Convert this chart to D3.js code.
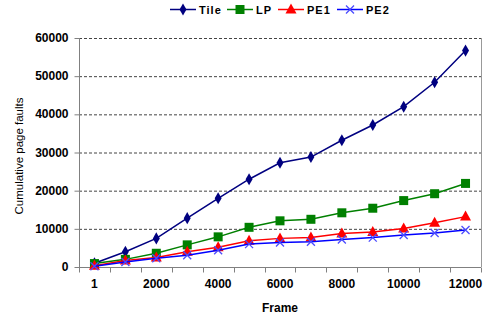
<!DOCTYPE html>
<html><head><meta charset="utf-8">
<script src="https://cdn.jsdelivr.net/npm/d3@7"></script>
<style>body{margin:0;background:#fff}svg{display:block}text{font-family:"Liberation Sans",Arial,sans-serif}</style>
</head><body><svg id="c" width="484" height="321"></svg>
<script>
const frames = ["1","1000","2000","3000","4000","5000","6000","7000","8000","9000","10000","11000","12000"];
const tickLabels = ["1","2000","4000","6000","8000","10000","12000"];
const yTicks = [0,10000,20000,30000,40000,50000,60000];
const tile = [1000,4000,7500,12800,18000,23000,27300,28800,33200,37200,42000,48400,56700];
const lp   = [900,2000,3600,5800,7900,10400,12100,12500,14200,15400,17400,19200,21900];
const pe1  = [300,1700,2500,4000,5200,6900,7500,7700,8800,9200,10100,11600,13200];
const pe2  = [200,1300,2300,3100,4400,6000,6400,6600,7200,7700,8400,8900,9700];
const seriesNames = ["Tile","LP","PE1","PE2"];
const series = [tile, lp, pe1, pe2];
const colors = ["#000080","#008000","#ff0000","#0000ff"];

const svg = d3.select("#c");
const L=79,R=481,T=38,B=267;
const x = d3.scaleBand().domain(frames).range([L,R]);
const y = d3.scaleLinear().domain([0,60000]).range([B,T]);

// gridlines
svg.append("g").selectAll("line").data(yTicks.filter(d=>d>0)).join("line")
  .attr("x1",L).attr("x2",R).attr("y1",d=>y(d)+0.5).attr("y2",d=>y(d)+0.5)
  .attr("stroke","#444").attr("stroke-dasharray","3,2").attr("stroke-width",1);
// right border
svg.append("line").attr("x1",R+0.5).attr("x2",R+0.5).attr("y1",T).attr("y2",B)
  .attr("stroke","#999");

// axes
const xa = svg.append("g").attr("transform",`translate(0,${B+0.5})`);
xa.append("line").attr("x1",L).attr("x2",R).attr("stroke","#808080");
const edges = frames.map(f=>x(f)).concat([R]);
xa.selectAll("line.t").data(edges).join("line").attr("class","t")
  .attr("x1",d=>Math.round(d)+0.5).attr("x2",d=>Math.round(d)+0.5).attr("y1",0).attr("y2",5).attr("stroke","#808080");
xa.selectAll("text").data(tickLabels).join("text")
  .attr("x",d=>x(d)+x.bandwidth()/2).attr("y",20).attr("text-anchor","middle")
  .attr("font-size","12px").attr("font-weight","bold").text(d=>d);

const ya = svg.append("g").attr("transform",`translate(${L+0.5},0)`);
ya.append("line").attr("y1",T).attr("y2",B).attr("stroke","#808080");
ya.selectAll("line.t").data(yTicks).join("line").attr("class","t")
  .attr("x1",-5).attr("x2",0).attr("y1",d=>y(d)+0.5).attr("y2",d=>y(d)+0.5).attr("stroke","#808080");
ya.selectAll("text").data(yTicks).join("text")
  .attr("x",-11).attr("y",d=>y(d)+4).attr("text-anchor","end")
  .attr("font-size","12px").attr("font-weight","bold").text(d=>d);

svg.append("text").attr("x",280).attr("y",312).attr("text-anchor","middle")
  .attr("font-size","12px").attr("font-weight","bold").text("Frame");
svg.append("text").attr("transform","translate(23,156) rotate(-90)").attr("text-anchor","middle")
  .attr("font-size","11.5px").text("Cumulative page faults");

function marker(g, i, cx, cy){
  const c = colors[i];
  if(i===0) g.append("path").attr("d",d3.symbol(d3.symbolDiamond,42)()).attr("transform",`translate(${cx},${cy})`).attr("fill",c);
  else if(i===1) g.append("rect").attr("x",cx-4.5).attr("y",cy-4.5).attr("width",9).attr("height",9).attr("fill",c);
  else if(i===2) g.append("path").attr("d",`M${cx},${cy-6}L${cx+5.5},${cy+4}L${cx-5.5},${cy+4}Z`).attr("fill",c);
  else g.append("path").attr("d",`M${cx-4},${cy-4}L${cx+4},${cy+4}M${cx-4},${cy+4}L${cx+4},${cy-4}`).attr("stroke","#4b4bff").attr("stroke-width",1.3).attr("fill","none");
}

const line = d3.line().x((d,j)=>x(frames[j])+x.bandwidth()/2).y(d=>y(d));
series.forEach((s,i)=>{
  const g = svg.append("g");
  g.append("path").datum(s).attr("d",line).attr("fill","none").attr("stroke",colors[i]).attr("stroke-width",1.5);
  s.forEach((v,j)=>marker(g,i,x(frames[j])+x.bandwidth()/2,y(v)));
});

// legend
const lx = [170,227,278,337];
const lg = svg.append("g");
seriesNames.forEach((n,i)=>{
  lg.append("line").attr("x1",lx[i]).attr("x2",lx[i]+26).attr("y1",9.5).attr("y2",9.5).attr("stroke",colors[i]).attr("stroke-width",1.5);
  marker(lg,i,lx[i]+13,9.5);
  lg.append("text").attr("x",lx[i]+29).attr("y",13.5).attr("font-size","11px").attr("font-weight","bold")
    .attr("letter-spacing","1px").text(n);
});
</script></body></html>
